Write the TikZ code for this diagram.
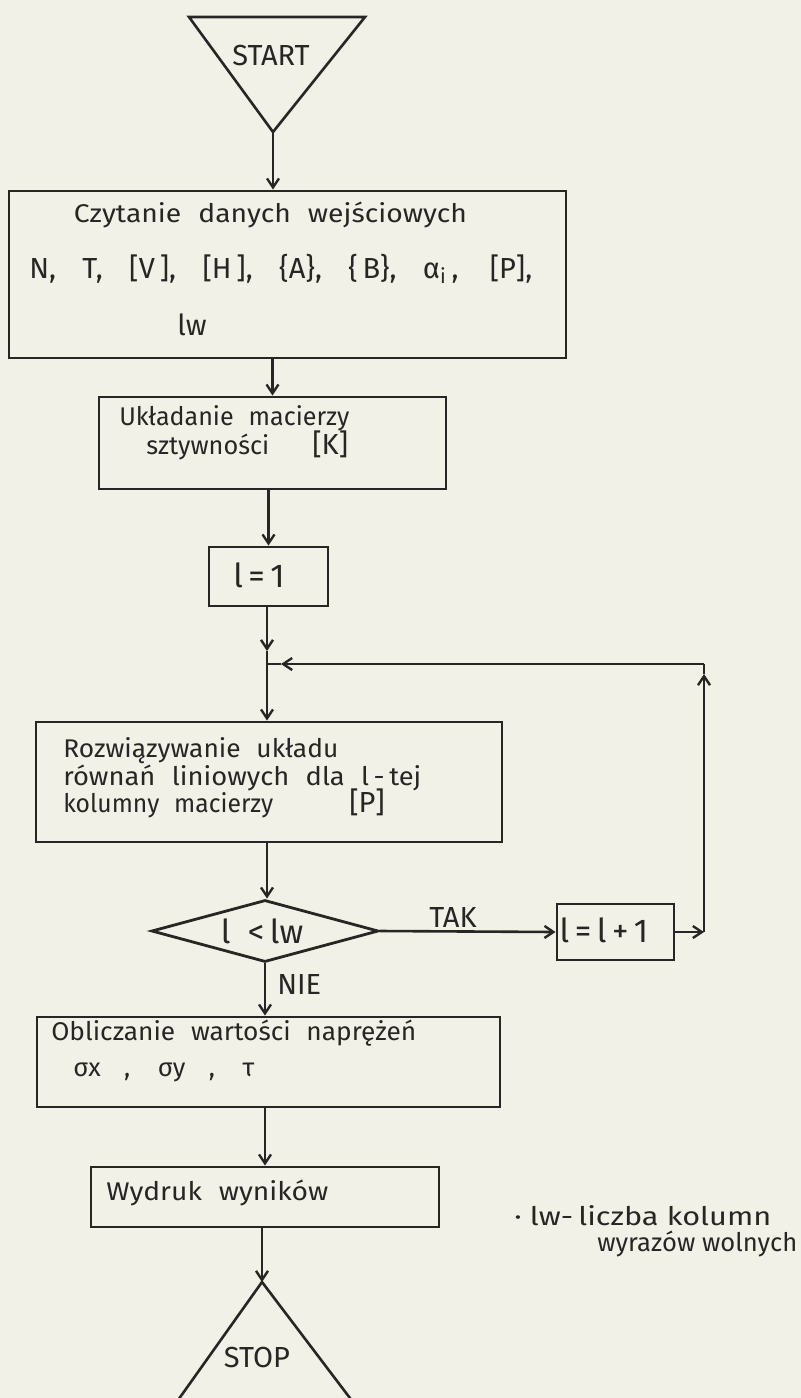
\documentclass[tikz,border=0pt]{standalone}
\usepackage{fontspec}
\usepackage{graphicx}
\setmainfont{Fira Sans}
\usetikzlibrary{arrows.meta,shapes.geometric}
\definecolor{paper}{RGB}{242,241,232}
\definecolor{ink}{RGB}{38,38,36}
% a line of lettering spread to a given width (interword spaces stretch)
\newcommand{\spread}[2]{\makebox[#1][s]{#2}}
% a line of lettering widened or narrowed to a given width
\newcommand{\fitw}[2]{\resizebox{#1}{\height}{#2}}
% the wide gap between hand-lettered words
\newcommand{\wg}{\hspace{0.6em}}
\begin{document}
\begin{tikzpicture}[x=0.5pt,y=-0.5pt,
  line width=1.3pt, draw=ink,
  every node/.style={text=ink, font=\fontsize{12.8}{15}\selectfont},
  box/.style={draw=ink, line width=1.4pt, rectangle, inner sep=0pt},
  txt/.style={anchor=base west, inner sep=0pt},
  ctxt/.style={anchor=base, inner sep=0pt},
  caps/.style={font=\fontsize{14.5}{17}\selectfont},
  big/.style={font=\fontsize{16.5}{19}\selectfont},
  arr/.style={-{Straight Barb[length=4.5pt,width=6pt,line width=1.2pt]}}]

% sheet
\fill[paper] (0,0) rectangle (801,1398);
\useasboundingbox (0,0) rectangle (801,1398);
\clip (0,0) rectangle (801,1398);

% START terminal
\coordinate (stl) at (189,17);
\coordinate (str) at (365,17);
\coordinate (startapex) at (273,132);
\draw[line join=miter] (stl) -- (str) -- (startapex) -- cycle;
\node[ctxt, caps] (tstart) at (271,65) {START};

% input data
\node[box, minimum width=278.5pt, minimum height=83.5pt] (read) at (287.5,274.5) {};
\node[ctxt] (read1) at (270.5,222) {\fitw{196.5pt}{Czytanie\wg danych\wg wejściowych}};
\node[txt, caps] (read2) at (28,278) {\spread{251.5pt}{N, T, [V\,], [H\,], \{A\}, \{\,B\}, α\textsubscript{i}\,, [P],}};
\node[ctxt, caps] (read3) at (192,335) {lw};

% stiffness matrix
\node[box, minimum width=173.5pt, minimum height=46pt] (stiff) at (272.5,443) {};
\node[txt] (stiff1) at (118,425) {\fitw{115pt}{Układanie\wg macierzy}};
\node[txt] (stiff2) at (145,454) {\fitw{61.5pt}{sztywności}};
\node[txt, caps] (stiff3) at (311,454) {[K]};

% l = 1
\node[box, minimum width=59.5pt, minimum height=29.5pt] (init) at (268.5,576.5) {};
\node[ctxt, big] (init1) at (259,587) {l\,=\,1};

% loop junction
\coordinate (join) at (267,664);
\coordinate (joinin) at (267,651);
\coordinate (joinleft) at (281,664);

% linear system
\node[box, minimum width=233pt, minimum height=60pt] (solve) at (269,782) {};
\node[txt] (solve1) at (62,757) {\fitw{137.5pt}{Rozwiązywanie\wg układu}};
\node[txt] (solve2) at (62,785) {\fitw{179pt}{równań\wg liniowych\wg dla\wg l\,-\,tej}};
\node[txt] (solve3) at (62,812) {\fitw{105pt}{kolumny\wg macierzy}};
\node[txt, caps] (solve4) at (348,812) {[P]};

% test
\node[diamond, draw=ink, line width=1.4pt, aspect=3.66, inner sep=0pt,
      minimum width=113.5pt, minimum height=31pt] (test) at (265,931) {};
\node[ctxt, big] (test1) at (262,943) {l\ \ <\,lw};

% l = l + 1
\node[box, minimum width=58.5pt, minimum height=28pt] (inc) at (615.5,932) {};
\node[ctxt, big] (inc1) at (604,942) {l\,=\,l\,+\,1};
\coordinate (rc) at (704,932);
\coordinate (rup) at (704,674);
\coordinate (rtop) at (704,664);

% stresses
\node[box, minimum width=231.5pt, minimum height=45pt] (stress) at (268.5,1062) {};
\node[txt] (stress1) at (50,1040) {\fitw{182.5pt}{Obliczanie\wg wartości\wg naprężeń}};
\node[txt] (stress2) at (72,1076) {\spread{90.5pt}{σx , σy , τ}};

% output
\node[box, minimum width=174pt, minimum height=30pt] (print) at (265,1197) {};
\node[txt] (print1) at (105,1200) {\fitw{111pt}{Wydruk\wg wyników}};

% STOP terminal
\coordinate (stopapex) at (262,1282);
\coordinate (stopl) at (171,1410);
\coordinate (stopr) at (359,1410);
\draw[line join=miter] (stopl) -- (stopapex) -- (stopr);
\node[ctxt, caps] (tstop) at (257,1367) {STOP};

% footnote
\node[txt] (note1) at (513,1225) {\fitw{128.5pt}{·\ lw-\,liczba kolumn}};
\node[txt] (note2) at (596,1251) {\fitw{100pt}{wyrazów wolnych}};

% connectors
\draw[arr] (startapex) -- (read.north -| startapex);
\draw[arr] (read.south -| stiff.north) -- (stiff.north);
\draw[arr] (init.north |- stiff.south) -- (init.north);
\draw[arr] (init.south -| join) -- (joinin);
\draw (joinin) -- (join);
\draw[arr] (join) -- (solve.north -| join);
\draw[arr] (solve.south -| join) -- (test.north -| join);
\draw[arr] (test.east) -- (inc.west);
\node[ctxt, caps] (tak) at (453,927) {TAK};
\draw[arr] (inc.east) -- (rc);
\draw[arr] (rc) -- (rup);
\draw (rup) -- (rtop);
\draw[arr] (rtop) -- (joinleft);
\draw (joinleft) -- (join);
\draw[arr] (test.south) -- (stress.north -| test.south);
\node[txt, caps] (nie) at (276,994) {NIE};
\draw[arr] (stress.south -| test.south) -- (print.north -| test.south);
\draw[arr] (print.south -| stopapex) -- (stopapex);
\end{tikzpicture}
\end{document}
